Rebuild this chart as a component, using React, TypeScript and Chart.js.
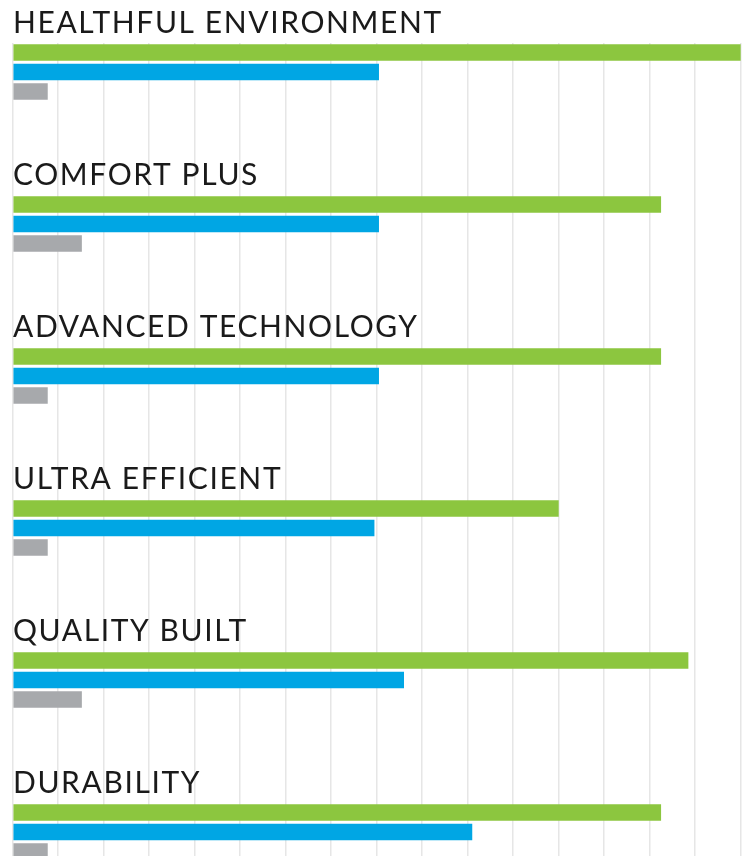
import React, { useEffect, useRef } from "react";
import { Chart, registerables } from "chart.js";

Chart.register(...registerables);

const categories = [
  "HEALTHFUL ENVIRONMENT",
  "COMFORT PLUS",
  "ADVANCED TECHNOLOGY",
  "ULTRA EFFICIENT",
  "QUALITY BUILT",
  "DURABILITY",
];
const greenValues = [16, 14.25, 14.25, 12, 14.85, 14.25];
const blueValues = [8.05, 8.05, 8.05, 7.95, 8.6, 10.1];
const grayValues = [0.77, 1.52, 0.77, 0.77, 1.52, 0.77];
const axisMin = 0;
const axisMax = 16;
const axisStep = 1;

const labelPlugin = {
  id: "groupLabels",
  afterDatasetsDraw(chart: any) {
    const { ctx, scales, chartArea } = chart;
    const y = scales.y;
    ctx.save();
    ctx.font = "400 30px Lato";
    try { (ctx as any).letterSpacing = "1.6px"; } catch (e) {}
    ctx.fillStyle = "#1a1a1a";
    ctx.textBaseline = "alphabetic";
    ctx.textAlign = "left";
    categories.forEach((c, i) => {
      const cy = y.getPixelForValue(i);
      ctx.fillText(c, chartArea.left + 0.3, cy - 39);
    });
    ctx.restore();
  },
};

export default function App() {
  const ref = useRef<HTMLCanvasElement>(null);
  useEffect(() => {
    if (!ref.current) return;
    const gridColor = "#e6e6e6";
    const chart = new Chart(ref.current, {
      type: "bar",
      data: {
        labels: categories,
        datasets: [
          { data: greenValues, backgroundColor: "#8cc63f", clip: false as any },
          { data: blueValues, backgroundColor: "#00a6e4", clip: false as any },
          { data: grayValues, backgroundColor: "#a7a9ac", clip: false as any },
        ],
      },
      options: {
        indexAxis: "y",
        animation: false,
        responsive: false,
        events: [],
        categoryPercentage: 58.5 / 152,
        barPercentage: 16.5 / 19.5,
        layout: { padding: { left: 12.7, right: 6.3, top: 43, bottom: 0 } },
        plugins: { legend: { display: false }, tooltip: { enabled: false } },
        scales: {
          y: {
            type: "category",
            display: false,
            offset: false,
            grid: { offset: false, display: false },
          },
          x: {
            type: "linear",
            position: "bottom",
            min: axisMin,
            max: axisMax,
            ticks: { display: false, stepSize: axisStep },
            grid: { color: gridColor, lineWidth: 1.5, tickLength: 24, drawTicks: true },
            border: { display: false },
          },
          xTop: {
            type: "linear",
            position: "top",
            axis: "x",
            min: axisMin,
            max: axisMax,
            ticks: { display: false, stepSize: axisStep },
            grid: { color: gridColor, lineWidth: 1.5, tickLength: 29, drawTicks: true, drawOnChartArea: false },
            border: { display: false },
          },
        } as any,
      },
      plugins: [labelPlugin],
    });
    return () => chart.destroy();
  }, []);
  return (
    <>
      <style>{"body{margin:0;overflow:hidden;background:#fff}"}</style>
      <canvas ref={ref} width={747} height={856} style={{ display: "block" }} />
    </>
  );
}
